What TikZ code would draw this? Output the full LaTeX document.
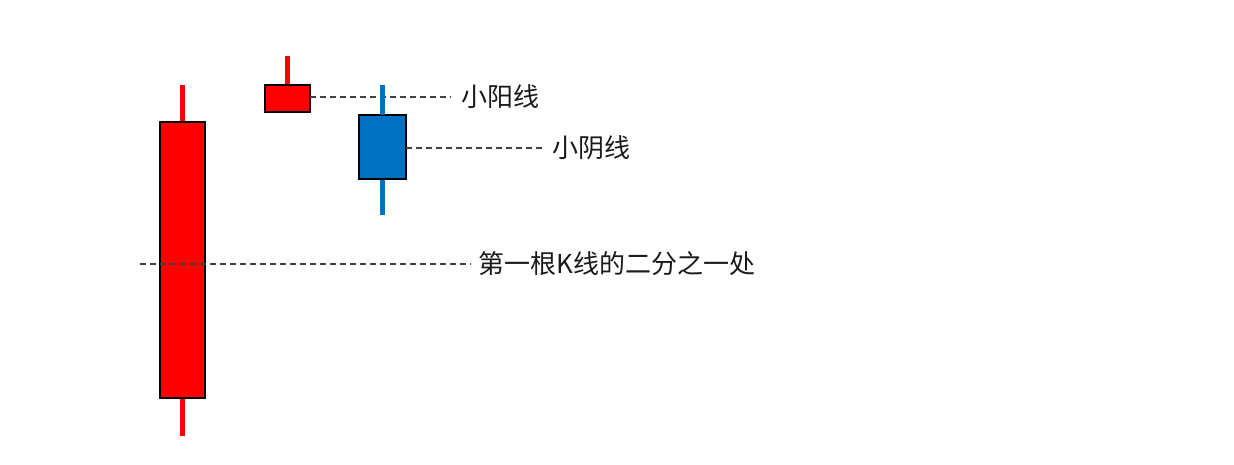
\documentclass[tikz,border=0pt]{standalone}
\usepackage{fontspec}
\newfontfamily\cjk{Noto Sans CJK SC}
\definecolor{kred}{HTML}{FF0000}
\definecolor{kblue}{HTML}{0070C0}
\definecolor{dashgray}{HTML}{404040}
\definecolor{txt}{HTML}{1A1A1A}
\begin{document}
\begin{tikzpicture}[x=1pt,y=-1pt,
  body/.style={draw=black, line width=1.2pt, inner sep=0pt, outer sep=0pt, anchor=north west},
  redbody/.style={body, fill=kred},
  bluebody/.style={body, fill=kblue},
  redwick/.style={draw=kred, line width=4.2pt},
  bluewick/.style={draw=kblue, line width=4.2pt},
  guide/.style={draw=dashgray, line width=1.3pt, dash pattern=on 6pt off 4pt},
  lab/.style={anchor=west, inner sep=0pt, text=txt, font=\cjk\fontsize{26pt}{30pt}\selectfont}]
\useasboundingbox (0,0) rectangle (1234,464);
% coordinates for wick ends
\coordinate (w1t) at (182.5,85);
\coordinate (w1b) at (182.5,436);
\coordinate (w2t) at (287.5,56);
\coordinate (w3t) at (382.5,85);
\coordinate (w3b) at (382.5,215);
\coordinate (h) at (140,264);
% wicks (behind bodies)
\draw[redwick] (w1t) -- (w1b);
\draw[redwick] (w2t) -- (287.5,90);
\draw[bluewick] (w3t) -- (w3b);
% bodies
\node[redbody, minimum width=45pt, minimum height=276pt] (c1) at (160,122) {};
\node[redbody, minimum width=45pt, minimum height=27pt] (c2) at (265,85) {};
\node[bluebody, minimum width=47pt, minimum height=64pt] (c3) at (359,115) {};
% labels
\node[lab] (l1) at (461,97) {小阳线};
\node[lab] (l2) at (552,148) {小阴线};
\node[lab] (l3) at (478,264) {第一根K线的二分之一处};
% guide lines
\draw[guide] (c2.east |- l1.west) -- ([xshift=-10pt]l1.west);
\draw[guide] (c3.east |- l2.west) -- ([xshift=-9pt]l2.west);
\draw[guide] (h) -- ([xshift=-7pt]l3.west);
% wick of blue over dashed line
\draw[bluewick] (w3t) -- (c3.north);
\end{tikzpicture}
\end{document}
